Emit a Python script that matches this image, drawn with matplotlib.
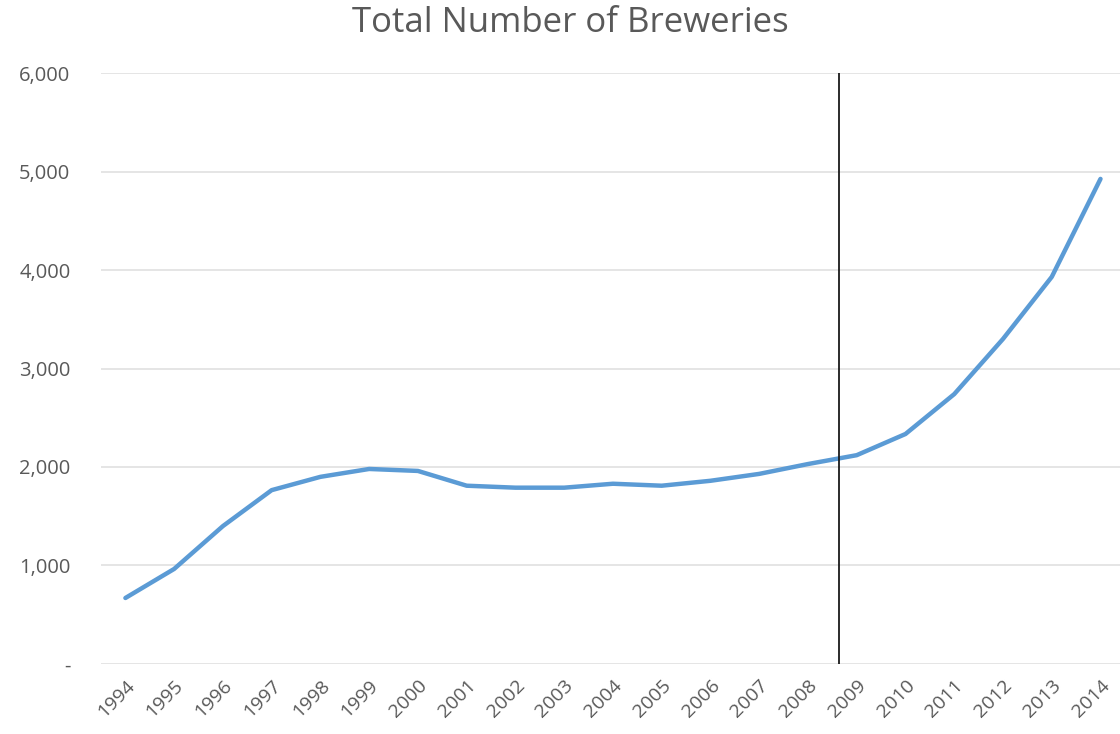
import matplotlib.pyplot as plt
from matplotlib.ticker import FuncFormatter

# brewery counts by year
years = [1994, 1995, 1996, 1997, 1998, 1999, 2000, 2001, 2002, 2003, 2004,
         2005, 2006, 2007, 2008, 2009, 2010, 2011, 2012, 2013, 2014]
breweries = [670, 965, 1400, 1765, 1900, 1980, 1960, 1810, 1790, 1790, 1830,
             1810, 1860, 1930, 2030, 2120, 2335, 2740, 3300, 3930, 4925]
marker_year = 2008.63
y_ticks = [0, 1000, 2000, 3000, 4000, 5000, 6000]

plt.rcParams['font.family'] = ['Open Sans', 'DejaVu Sans']

fig = plt.figure(figsize=(11.2, 7.34), dpi=100)
ax = fig.add_axes([0.0902, 0.0954, 0.9098, 0.8051])

ax.plot(years, breweries, color='#5B9BD5', linewidth=3.2, solid_capstyle='round', zorder=3)
ax.axvline(marker_year, ymin=0, ymax=1, color='#1a1a1a', linewidth=1.3, zorder=4)

ax.set_xlim(1993.5, 2014.4)
ax.set_ylim(0, 6000)
ax.set_yticks(y_ticks)
ax.yaxis.set_major_formatter(FuncFormatter(lambda v, p: '-' if v == 0 else '{:,.0f}'.format(v)))
ax.set_xticks(years)
ax.set_xticklabels([str(y) for y in years], rotation=45, ha='right', rotation_mode='anchor')

ax.grid(axis='y', color='#DEDEDE', linewidth=1.1)
ax.set_axisbelow(True)
for s in ax.spines.values():
    s.set_visible(False)
ax.tick_params(axis='both', length=0, labelcolor='#595959')
ax.tick_params(axis='y', pad=22, labelsize=14.5)
ax.tick_params(axis='x', pad=9, labelsize=14)

fig.text(0.509, 0.968, 'Total Number of Breweries', ha='center', va='center',
         fontsize=25, color='#595959')

fig.savefig('out.png', dpi=100)
